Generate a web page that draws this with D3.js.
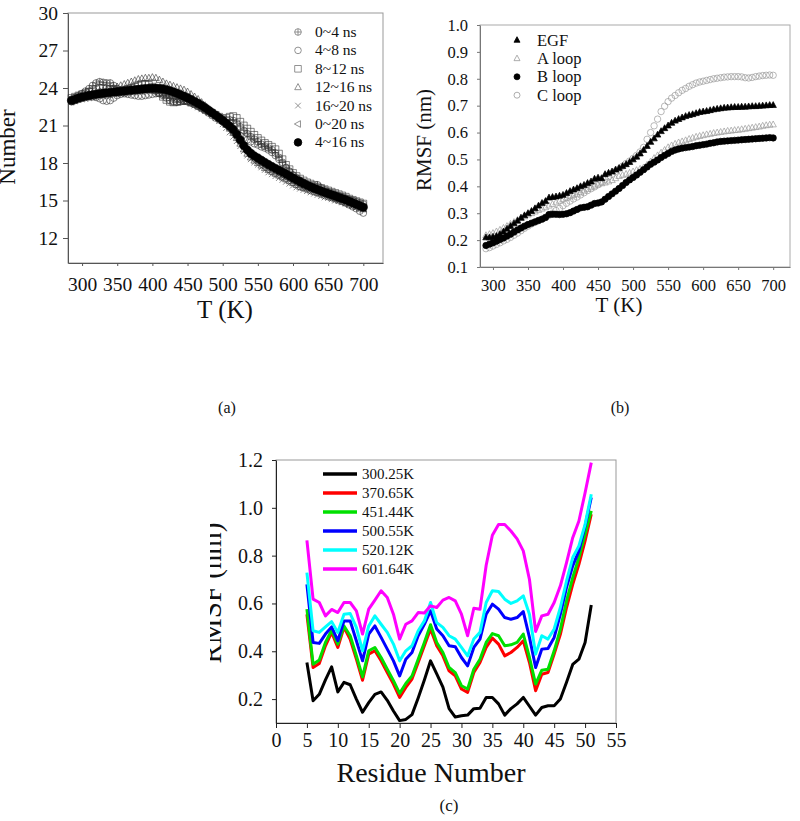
<!DOCTYPE html>
<html>
<head>
<meta charset="utf-8">
<script src="https://cdn.jsdelivr.net/npm/d3@7"></script>
<style>
  body { margin: 0; background: #fff; }
  svg { display: block; }
  svg text { font-family: "Liberation Serif", "Times New Roman", serif; }
</style>
</head>
<body>
<div id="chart"></div>
<script>
// ---------- panel (a): Number vs T, one series per time window ----------
const tempsA = [285,290,295,300,305,310,315,320,325,330, 335,340,345,350,355,360,365,370,375,380,
  385,390,395,400,405,410,415,420,425,430, 435,440,445,450,455,460,465,470,475,480,
  485,490,495,500,505,510,515,520,525,530, 535,540,545,550,555,560,565,570,575,580,
  585,590,595,600,605,610,615,620,625,630, 635,640,645,650,655,660,665,670,675,680,
  685,690,695,700];
const ns0to4 = [23.10,23.25,23.40,23.55,23.75,23.95,24.20,24.40,24.50,24.45,
  24.40,24.40,24.20,23.95,23.85,23.85,23.90,23.90,23.95,23.95,
  24.00,24.00,24.00,23.90,23.75,23.60,23.40,23.20,23.00,22.90,
  22.85,22.90,22.95,22.95,22.85,22.70,22.55,22.40,22.25,22.10,
  21.95,21.80,21.65,21.50,21.45,21.45,21.40,21.20,20.90,20.60,
  20.35,20.10,19.90,19.70,19.50,19.35,19.20,19.05,18.80,18.45,
  18.05,17.65,17.35,17.05,16.80,16.60,16.45,16.30,16.20,16.15,
  16.25,16.00,15.85,15.70,15.60,15.50,15.40,15.30,15.20,15.10,
  15.00,14.90,14.80,14.70];
const ns4to8 = [22.90,23.00,23.10,23.20,23.25,23.30,23.30,23.25,23.15,23.00,
  22.95,23.00,23.20,23.40,23.50,23.55,23.50,23.45,23.40,23.35,
  23.35,23.40,23.45,23.50,23.55,23.55,23.50,23.45,23.40,23.30,
  23.20,23.10,23.00,22.90,22.80,22.70,22.55,22.40,22.20,22.00,
  21.80,21.60,21.45,21.30,21.10,20.90,20.65,20.40,20.20,20.00,
  19.85,19.70,19.55,19.45,19.30,19.20,19.05,18.85,18.60,18.30,
  17.95,17.60,17.30,17.00,16.80,16.60,16.40,16.25,16.10,16.00,
  15.85,15.70,15.60,15.45,15.35,15.20,15.10,14.95,14.80,14.65,
  14.50,14.35,14.15,14.00];
const ns8to12 = [23.20,23.30,23.40,23.50,23.60,23.70,23.80,23.90,24.00,24.00,
  23.95,23.90,23.85,23.80,23.75,23.80,23.90,24.00,24.10,24.20,
  24.30,24.30,24.25,24.10,23.85,23.60,23.30,23.05,22.90,22.85,
  22.90,22.95,23.00,22.95,22.85,22.75,22.60,22.45,22.30,22.15,
  22.00,21.85,21.70,21.55,21.60,21.70,21.75,21.60,21.30,21.00,
  20.75,20.50,20.25,20.00,19.80,19.60,19.45,19.30,19.10,18.75,
  18.30,17.85,17.50,17.20,16.95,16.75,16.60,16.45,16.35,16.25,
  16.10,16.00,15.90,15.80,15.70,15.60,15.50,15.40,15.30,15.15,
  15.05,14.95,14.85,14.75];
const ns12to16 = [23.00,23.10,23.20,23.30,23.40,23.50,23.60,23.70,23.75,23.80,
  23.85,23.90,24.00,24.10,24.20,24.30,24.40,24.50,24.60,24.70,
  24.75,24.80,24.80,24.85,24.80,24.65,24.50,24.35,24.25,24.15,
  24.05,23.95,23.85,23.70,23.50,23.30,23.10,22.85,22.60,22.35,
  22.10,21.85,21.60,21.35,21.05,20.75,20.40,20.00,19.55,19.10,
  18.75,18.45,18.20,18.00,17.80,17.60,17.45,17.30,17.15,17.00,
  16.85,16.70,16.55,16.40,16.25,16.10,16.00,15.90,15.80,15.70,
  15.60,15.50,15.40,15.30,15.20,15.10,15.00,14.90,14.80,14.70,
  14.60,14.50,14.40,14.30];
const ns16to20 = [22.90,23.00,23.10,23.20,23.30,23.40,23.50,23.60,23.70,23.75,
  23.75,23.70,23.65,23.60,23.60,23.65,23.70,23.75,23.80,23.85,
  23.90,23.90,23.90,23.85,23.80,23.70,23.60,23.50,23.40,23.30,
  23.20,23.10,23.00,22.90,22.75,22.60,22.45,22.30,22.15,22.00,
  21.80,21.60,21.35,21.10,20.80,20.45,20.10,19.75,19.35,18.95,
  18.60,18.30,18.05,17.85,17.65,17.45,17.25,17.10,16.95,16.80,
  16.65,16.50,16.35,16.20,16.05,15.95,15.85,15.75,15.65,15.55,
  15.45,15.35,15.25,15.20,15.10,15.00,14.95,14.85,14.75,14.65,
  14.55,14.45,14.35,14.30];
const ns0to20 = [22.90,23.00,23.10,23.15,23.20,23.25,23.30,23.35,23.40,23.45,
  23.50,23.50,23.55,23.55,23.60,23.60,23.65,23.70,23.70,23.75,
  23.75,23.80,23.80,23.80,23.80,23.75,23.70,23.65,23.55,23.45,
  23.35,23.25,23.15,23.00,22.85,22.70,22.55,22.40,22.20,22.00,
  21.80,21.60,21.40,21.20,20.95,20.70,20.40,20.05,19.65,19.25,
  18.90,18.60,18.35,18.15,17.95,17.80,17.60,17.45,17.30,17.15,
  17.00,16.85,16.70,16.55,16.40,16.25,16.10,16.00,15.90,15.80,
  15.70,15.60,15.50,15.40,15.30,15.20,15.10,15.00,14.90,14.80,
  14.70,14.60,14.50,14.40];
const ns4to16 = [23.00,23.10,23.20,23.28,23.35,23.40,23.45,23.50,23.54,23.58,
  23.61,23.64,23.67,23.70,23.73,23.76,23.79,23.82,23.85,23.88,
  23.91,23.94,23.96,23.98,23.98,23.96,23.92,23.86,23.78,23.68,
  23.58,23.46,23.34,23.22,23.08,22.93,22.78,22.61,22.43,22.23,
  22.03,21.83,21.62,21.40,21.18,20.95,20.68,20.30,19.85,19.40,
  19.05,18.78,18.57,18.40,18.22,18.05,17.88,17.72,17.57,17.42,
  17.27,17.12,16.96,16.80,16.65,16.50,16.36,16.23,16.10,15.98,
  15.87,15.76,15.66,15.56,15.46,15.36,15.26,15.16,15.06,14.94,
  14.82,14.70,14.58,14.46];
const namesA = ['0~4 ns', '4~8 ns', '8~12 ns', '12~16 ns', '16~20 ns', '0~20 ns', '4~16 ns'];
const xTicksA = [300, 350, 400, 450, 500, 550, 600, 650, 700];
const yTicksA = [12, 15, 18, 21, 24, 27, 30];

// ---------- panel (b): RMSF vs T for EGF and its loops ----------
const tempsB = [290,295,300,305,310,315,320,325,330,335, 340,345,350,355,360,365,370,375,380,385,
  390,395,400,405,410,415,420,425,430,435, 440,445,450,455,460,465,470,475,480,485,
  490,495,500,505,510,515,520,525,530,535, 540,545,550,555,560,565,570,575,580,585,
  590,595,600,605,610,615,620,625,630,635, 640,645,650,655,660,665,670,675,680,685,
  690,695,700];
const egf = [.210,.210,.212,.215,.222,.232,.242,.252,.262,.272,
  .283,.292,.300,.308,.318,.328,.338,.345,.358,.360,
  .362,.365,.368,.375,.382,.388,.393,.400,.405,.412,
  .418,.428,.432,.430,.445,.450,.455,.462,.468,.475,
  .482,.490,.500,.510,.522,.535,.550,.565,.578,.592,
  .605,.616,.626,.636,.644,.650,.656,.661,.665,.668,
  .672,.676,.678,.680,.683,.686,.688,.690,.692,.693,
  .694,.695,.695,.696,.696,.697,.698,.698,.699,.700,
  .701,.702,.702];
const aLoop = [.218,.222,.226,.232,.238,.245,.252,.260,.267,.275,
  .282,.288,.295,.300,.306,.312,.317,.322,.328,.334,
  .340,.346,.352,.357,.362,.367,.372,.378,.384,.390,
  .396,.402,.407,.411,.414,.418,.423,.430,.438,.442,
  .446,.450,.455,.460,.465,.470,.480,.492,.505,.515,
  .525,.535,.545,.552,.558,.563,.567,.571,.576,.580,
  .584,.587,.590,.593,.595,.598,.600,.602,.604,.606,
  .607,.609,.610,.612,.614,.616,.618,.620,.622,.625,
  .627,.629,.630];
const bLoop = [.180,.185,.190,.196,.202,.208,.215,.222,.230,.238,
  .245,.252,.258,.263,.268,.273,.278,.284,.295,.296,
  .296,.295,.296,.298,.302,.308,.314,.320,.322,.324,
  .330,.336,.338,.342,.352,.362,.372,.382,.392,.403,
  .414,.424,.433,.442,.452,.462,.472,.482,.490,.498,
  .507,.515,.522,.530,.535,.539,.542,.544,.546,.548,
  .551,.553,.555,.557,.560,.562,.565,.567,.568,.569,
  .570,.571,.572,.573,.574,.575,.576,.577,.578,.579,
  .580,.581,.580];
const cLoop = [.168,.172,.178,.184,.190,.197,.203,.210,.218,.226,
  .235,.244,.252,.260,.266,.272,.278,.285,.292,.300,
  .310,.318,.328,.337,.345,.353,.360,.368,.376,.384,
  .391,.398,.406,.416,.425,.435,.445,.455,.465,.475,
  .485,.494,.504,.515,.528,.545,.575,.600,.625,.650,
  .678,.698,.715,.728,.738,.748,.757,.764,.772,.778,
  .784,.788,.791,.794,.797,.800,.802,.804,.806,.807,
  .808,.808,.808,.807,.804,.803,.805,.808,.810,.812,
  .813,.814,.813];
const namesB = ['EGF', 'A loop', 'B loop', 'C loop'];
const yTicksB = [0.1, 0.2, 0.3, 0.4, 0.5, 0.6, 0.7, 0.8, 0.9, 1.0];

// ---------- panel (c): RMSF per residue at six temperatures ----------
const residues = [5,6,7,8,9,10,11,12,13,14, 15,16,17,18,19,20,21,22,23,24,
  25,26,27,28,29,30,31,32,33,34, 35,36,37,38,39,40,41,42,43,44, 45,46,47,48,49,50,51];
const k300 = [.353,.193,.220,.280,.335,.230,.270,.260,.200,.145,
  .185,.220,.230,.195,.150,.110,.115,.135,.205,.280,
  .360,.305,.250,.160,.125,.130,.133,.160,.162,.207,
  .207,.180,.133,.160,.180,.207,.170,.133,.165,.172,
  .172,.200,.270,.345,.367,.437,.594];
const k370 = [.555,.332,.349,.423,.479,.416,.500,.450,.367,.279,
  .388,.402,.360,.311,.263,.207,.249,.284,.353,.423,
  .493,.423,.381,.318,.297,.242,.228,.311,.353,.416,
  .455,.430,.381,.395,.416,.444,.353,.235,.304,.311,
  .388,.471,.583,.680,.764,.862,.973];
const k451 = [.576,.346,.363,.437,.488,.430,.506,.465,.381,.293,
  .402,.416,.374,.325,.277,.224,.265,.297,.367,.437,
  .511,.437,.395,.332,.311,.256,.242,.325,.367,.437,
  .474,.465,.423,.427,.437,.472,.374,.263,.321,.325,
  .402,.492,.611,.708,.792,.890,.987];
const k500 = [.680,.437,.433,.472,.502,.444,.527,.527,.444,.360,
  .472,.506,.458,.409,.360,.297,.367,.395,.465,.513,
  .569,.493,.465,.423,.419,.374,.339,.416,.451,.555,
  .597,.576,.541,.534,.541,.566,.458,.332,.409,.412,
  .458,.555,.667,.757,.820,.924,1.043];
const k520 = [.729,.486,.479,.502,.524,.479,.555,.558,.500,.402,
  .506,.548,.513,.479,.430,.360,.402,.423,.486,.527,
  .604,.520,.500,.465,.451,.416,.381,.451,.479,.604,
  .653,.650,.618,.600,.611,.632,.555,.388,.465,.451,
  .493,.583,.694,.792,.841,.931,1.057];
const k601 = [.864,.618,.604,.548,.575,.562,.604,.604,.569,.472,
  .576,.614,.653,.625,.555,.451,.513,.527,.562,.560,
  .590,.583,.614,.625,.611,.555,.465,.580,.576,.760,
  .885,.930,.930,.903,.870,.820,.700,.483,.548,.555,
  .604,.674,.771,.875,.945,1.063,1.189];
const namesC = ['300.25K', '370.65K', '451.44K', '500.55K', '520.12K', '601.64K'];
const xTicksC = [0, 5, 10, 15, 20, 25, 30, 35, 40, 45, 50, 55];
const yTicksC = [0.2, 0.4, 0.6, 0.8, 1.0, 1.2];

const serif = '"Liberation Serif", "Times New Roman", serif';

const svg = d3.select('#chart').append('svg')
    .attr('width', 800)
    .attr('height', 821);
svg.append('rect').attr('width', 800).attr('height', 821).attr('fill', '#fff');

// marker outlines, centred on 0,0
function marker(type, r) {
  const circle = `M${-r},0A${r},${r} 0 1,0 ${r},0A${r},${r} 0 1,0 ${-r},0Z`;
  switch (type) {
    case 'circle': return circle;
    case 'crossCircle': return circle + `M${-r},0H${r}M0,${-r}V${r}`;
    case 'square': return `M${-r},${-r}H${r}V${r}H${-r}Z`;
    case 'triangle': return `M0,${-r * 1.1}L${r},${r * 0.75}L${-r},${r * 0.75}Z`;
    case 'times': { const s = r * 0.85; return `M${-s},${-s}L${s},${s}M${-s},${s}L${s},${-s}`; }
    case 'triLeft': return `M${-r * 1.1},0L${r * 0.75},${-r}L${r * 0.75},${r}Z`;
  }
}

function axes(box, x, y, o) {
  // light frame, then the darker left / bottom axes over it
  svg.append('rect')
    .attr('x', box.left).attr('y', box.top)
    .attr('width', box.right - box.left).attr('height', box.bottom - box.top)
    .attr('fill', 'none').attr('stroke', o.frame);

  const xAxis = d3.axisBottom(x).tickValues(o.xTicks).tickFormat(o.xFormat)
      .tickSize(o.xTickSize).tickSizeOuter(0).tickPadding(o.xPad);
  const yAxis = d3.axisLeft(y).tickValues(o.yTicks).tickFormat(o.yFormat)
      .tickSize(o.yTickSize).tickSizeOuter(0).tickPadding(o.yPad);

  const gx = svg.append('g').attr('transform', `translate(0,${box.bottom})`).call(xAxis);
  const gy = svg.append('g').attr('transform', `translate(${box.left},0)`).call(yAxis);
  [gx, gy].forEach(g => {
    g.attr('font-size', o.font);
    g.select('.domain').attr('stroke', o.axis);
    g.selectAll('.tick line').attr('stroke', o.axis);
    g.selectAll('.tick text').attr('fill', '#111');
  });
}

// ---------------- (a) ----------------
const boxA = {left: 68, right: 383, top: 13, bottom: 263};
const xA = d3.scaleLinear().domain([280, 728]).range([boxA.left, boxA.right]);
const yA = d3.scaleLinear().domain([10, 30]).range([boxA.bottom, boxA.top]);
axes(boxA, xA, yA, {
  xTicks: xTicksA, yTicks: yTicksA, xFormat: d3.format('d'), yFormat: d3.format('d'),
  xTickSize: 3, xPad: 11, yTickSize: 5, yPad: 5, font: 19.5, frame: '#999', axis: '#555'
});

const seriesA = [
  {name: namesA[0], values: ns0to4, shape: 'crossCircle'},
  {name: namesA[1], values: ns4to8, shape: 'circle'},
  {name: namesA[2], values: ns8to12, shape: 'square'},
  {name: namesA[3], values: ns12to16, shape: 'triangle'},
  {name: namesA[4], values: ns16to20, shape: 'times'},
  {name: namesA[5], values: ns0to20, shape: 'triLeft'},
  {name: namesA[6], values: ns4to16, shape: 'circle', filled: true}
];

seriesA.forEach(s => {
  const r = s.filled ? 4.2 : 3.4;
  svg.append('g').selectAll('path')
    .data(s.values)
    .enter().append('path')
      .attr('transform', (d, i) => `translate(${xA(tempsA[i])},${yA(d)})`)
      .attr('d', marker(s.shape, r))
      .attr('fill', s.filled ? '#000' : 'none')
      .attr('stroke', s.filled ? '#000' : '#333')
      .attr('stroke-width', s.filled ? 0.5 : 0.6);
});

// legend (a)
const legA = svg.append('g');
seriesA.forEach((s, i) => {
  const cy = 32 + i * 18.4;
  legA.append('path')
    .attr('transform', `translate(298,${cy})`)
    .attr('d', marker(s.shape, s.filled ? 3.8 : 3.3))
    .attr('fill', s.filled ? '#000' : 'none')
    .attr('stroke', s.filled ? '#000' : '#777')
    .attr('stroke-width', 0.8);
  legA.append('text')
    .attr('x', 315).attr('y', cy + 5)
    .attr('font-size', 15.5).attr('fill', '#111')
    .text(s.name);
});

// the y title of (a) runs off the left edge in the original
svg.append('text')
  .attr('transform', 'translate(15,147) rotate(-90)')
  .attr('text-anchor', 'middle').attr('font-size', 23).attr('fill', '#111')
  .text('Number');
svg.append('text')
  .attr('x', 225).attr('y', 318)
  .attr('text-anchor', 'middle').attr('font-size', 25).attr('fill', '#111')
  .text('T (K)');
svg.append('text')
  .attr('x', 227).attr('y', 413)
  .attr('text-anchor', 'middle').attr('font-size', 16).attr('fill', '#111')
  .text('(a)');

// ---------------- (b) ----------------
const boxB = {left: 480, right: 790, top: 25, bottom: 267};
const xB = d3.scaleLinear().domain([281.5, 724]).range([boxB.left, boxB.right]);
const yB = d3.scaleLinear().domain([0.1, 1.0]).range([boxB.bottom, boxB.top]);
axes(boxB, xB, yB, {
  xTicks: xTicksA, yTicks: yTicksB, xFormat: d3.format('d'), yFormat: d3.format('.1f'),
  xTickSize: 3, xPad: 9, yTickSize: 3, yPad: 9, font: 16.5, frame: '#aaa', axis: '#777'
});

const seriesB = [
  {name: namesB[0], values: egf, shape: 'triangle', fill: '#000', stroke: '#000', order: 3},
  {name: namesB[1], values: aLoop, shape: 'triangle', fill: 'none', stroke: '#999', order: 0},
  {name: namesB[2], values: bLoop, shape: 'circle', fill: '#000', stroke: '#000', order: 2},
  {name: namesB[3], values: cLoop, shape: 'circle', fill: 'none', stroke: '#999', order: 1}
];

seriesB.slice().sort((a, b) => a.order - b.order).forEach(s => {
  svg.append('g').selectAll('path')
    .data(s.values)
    .enter().append('path')
      .attr('transform', (d, i) => `translate(${xB(tempsB[i])},${yB(d)})`)
      .attr('d', marker(s.shape, 3.2))
      .attr('fill', s.fill)
      .attr('stroke', s.stroke)
      .attr('stroke-width', 0.7);
});

const legB = svg.append('g');
seriesB.forEach((s, i) => {
  const cy = 40 + i * 18.4;
  legB.append('path')
    .attr('transform', `translate(517,${cy})`)
    .attr('d', marker(s.shape, 3))
    .attr('fill', s.fill).attr('stroke', s.stroke).attr('stroke-width', 0.8);
  legB.append('text')
    .attr('x', 537).attr('y', cy + 5.5)
    .attr('font-size', 16.5).attr('fill', '#111')
    .text(s.name);
});

svg.append('text')
  .attr('transform', 'translate(431,140) rotate(-90)')
  .attr('text-anchor', 'middle').attr('font-size', 21).attr('fill', '#111')
  .text('RMSF (nm)');
svg.append('text')
  .attr('x', 619).attr('y', 312)
  .attr('text-anchor', 'middle').attr('font-size', 21).attr('fill', '#111')
  .text('T (K)');
svg.append('text')
  .attr('x', 620).attr('y', 413)
  .attr('text-anchor', 'middle').attr('font-size', 16).attr('fill', '#111')
  .text('(b)');

// ---------------- (c) ----------------
const boxC = {left: 276, right: 616, top: 460, bottom: 723};
const xC = d3.scaleLinear().domain([0, 55]).range([boxC.left, boxC.right]);
const yC = d3.scaleLinear().domain([0.1, 1.2]).range([boxC.bottom, boxC.top]);
axes(boxC, xC, yC, {
  xTicks: xTicksC, yTicks: yTicksC, xFormat: d3.format('d'), yFormat: d3.format('.1f'),
  xTickSize: 5, xPad: 5, yTickSize: 4, yPad: 9, font: 20, frame: '#999', axis: '#222'
});

const seriesC = [
  {name: namesC[0], values: k300, color: '#000000'},
  {name: namesC[1], values: k370, color: '#ff0000'},
  {name: namesC[2], values: k451, color: '#00e000'},
  {name: namesC[3], values: k500, color: '#0000ff'},
  {name: namesC[4], values: k520, color: '#00ffff'},
  {name: namesC[5], values: k601, color: '#ff00ff'}
];

const lineC = d3.line()
  .x((d, i) => xC(residues[i]))
  .y(d => yC(d));

seriesC.forEach(s => {
  svg.append('path')
    .datum(s.values)
    .attr('d', lineC)
    .attr('fill', 'none')
    .attr('stroke', s.color)
    .attr('stroke-width', 3)
    .attr('stroke-linejoin', 'round');
});

const legC = svg.append('g');
seriesC.forEach((s, i) => {
  const cy = 474 + i * 19;
  legC.append('line')
    .attr('x1', 323).attr('x2', 357).attr('y1', cy).attr('y2', cy)
    .attr('stroke', s.color).attr('stroke-width', 3.5);
  legC.append('text')
    .attr('x', 362).attr('y', cy + 5)
    .attr('font-size', 15).attr('fill', '#111')
    .text(s.name);
});

// the y title of (c) is cut off on its left side in the original;
// clip in page coordinates, so the clip goes on an untransformed group
svg.append('clipPath').attr('id', 'cutC')
  .append('rect').attr('x', 210).attr('y', 440).attr('width', 60).attr('height', 300);
svg.append('g')
  .attr('clip-path', 'url(#cutC)')
  .append('text')
    .attr('transform', 'translate(221,593) rotate(-90)')
    .attr('text-anchor', 'middle').attr('font-size', 29).attr('fill', '#111')
    .text('RMSF (nm)');
svg.append('text')
  .attr('x', 431).attr('y', 782)
  .attr('text-anchor', 'middle').attr('font-size', 28).attr('fill', '#111')
  .text('Residue Number');
svg.append('text')
  .attr('x', 449).attr('y', 811)
  .attr('text-anchor', 'middle').attr('font-size', 17).attr('fill', '#111')
  .text('(c)');

// one serif face everywhere, axis ticks included
svg.selectAll('text').style('font-family', serif);
</script>
</body>
</html>
